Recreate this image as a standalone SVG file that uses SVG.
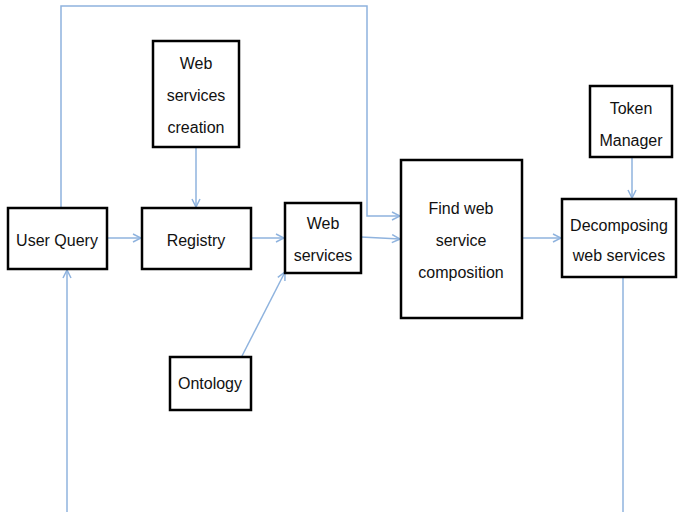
<svg xmlns="http://www.w3.org/2000/svg" width="678" height="512" viewBox="0 0 678 512">
<style>
.box{fill:#fff;stroke:#000;stroke-width:2.5}
.t{font-family:"Liberation Sans",Arial,sans-serif;font-size:16px;fill:#111;text-anchor:middle}
.c{fill:none;stroke:#8fb3de;stroke-width:1.5}
</style>
<defs>
<marker id="a" viewBox="0 0 10 10" refX="9" refY="5" markerWidth="10" markerHeight="10" markerUnits="userSpaceOnUse" orient="auto">
<path d="M1,1 L9,5 L1,9" fill="none" stroke="#8fb3de" stroke-width="1.5"/>
</marker>
</defs>
<g id="connectors">
<path class="c" d="M61,208 V6 H367 V216 H400" marker-end="url(#a)"/>
<path class="c" d="M196,147 V207" marker-end="url(#a)"/>
<path class="c" d="M107,238 H141" marker-end="url(#a)"/>
<path class="c" d="M251,238 H284" marker-end="url(#a)"/>
<path class="c" d="M242,356 L285,272" marker-end="url(#a)"/>
<path class="c" d="M361,237 L400,239" marker-end="url(#a)"/>
<path class="c" d="M522,238 H561" marker-end="url(#a)"/>
<path class="c" d="M632,157 V198" marker-end="url(#a)"/>
<path class="c" d="M623,277 V512"/>
<path class="c" d="M67,512 V270" marker-end="url(#a)"/>
</g>
<g id="webServicesCreation">
<rect class="box" x="153" y="41" width="86" height="106"/>
<text class="t" x="196" y="69">Web</text>
<text class="t" x="196" y="101">services</text>
<text class="t" x="196" y="133">creation</text>
</g>
<g id="userQuery">
<rect class="box" x="8" y="208" width="99" height="61"/>
<text class="t" x="57" y="246">User Query</text>
</g>
<g id="registry">
<rect class="box" x="142" y="208" width="109" height="61"/>
<text class="t" x="196" y="246">Registry</text>
</g>
<g id="webServices">
<rect class="box" x="285" y="203" width="76" height="70"/>
<text class="t" x="323" y="229">Web</text>
<text class="t" x="323" y="261">services</text>
</g>
<g id="ontology">
<rect class="box" x="170" y="357" width="81" height="53"/>
<text class="t" x="210" y="389">Ontology</text>
</g>
<g id="findComposition">
<rect class="box" x="401" y="160" width="121" height="158"/>
<text class="t" x="461" y="214">Find web</text>
<text class="t" x="461" y="246">service</text>
<text class="t" x="461" y="278">composition</text>
</g>
<g id="tokenManager">
<rect class="box" x="590" y="86" width="82" height="71"/>
<text class="t" x="631" y="114">Token</text>
<text class="t" x="631" y="146">Manager</text>
</g>
<g id="decomposing">
<rect class="box" x="562" y="199" width="114" height="78"/>
<text class="t" x="619" y="231">Decomposing</text>
<text class="t" x="619" y="261">web services</text>
</g>
</svg>
